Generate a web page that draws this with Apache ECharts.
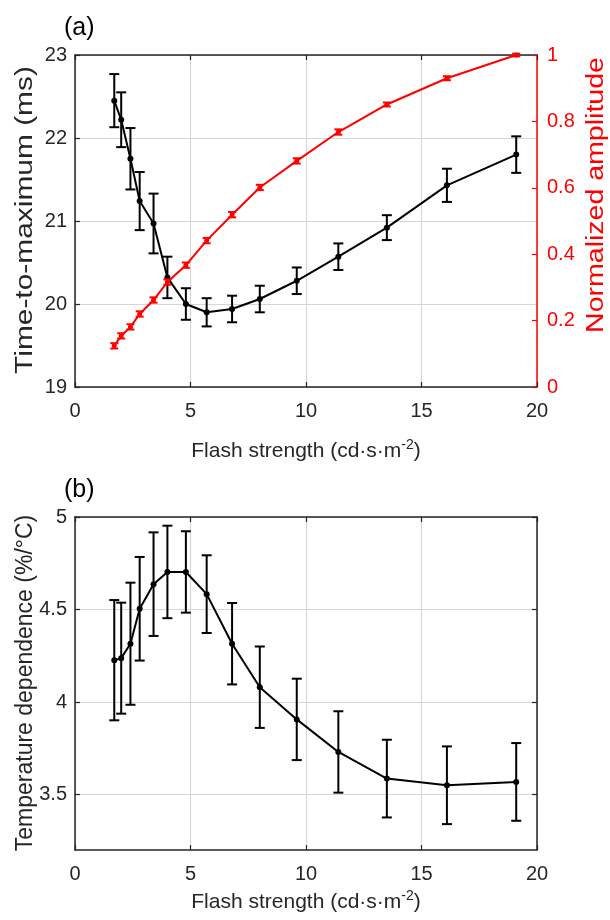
<!DOCTYPE html>
<html>
<head>
<meta charset="utf-8">
<script src="https://cdn.jsdelivr.net/npm/echarts@6/dist/echarts.min.js"></script>
<style>
html,body{margin:0;padding:0;background:#fff;}
#chart{width:610px;height:920px;}
</style>
</head>
<body>
<div id="chart"></div>
<script>
// Flash strengths (cd·s·m^-2)
const flash = [1.7, 2.0, 2.4, 2.8, 3.4, 4.0, 4.8, 5.7, 6.8, 8.0, 9.6, 11.4, 13.5, 16.1, 19.1];
// (a) Time-to-maximum (ms) and its error
const tmax = [22.45, 22.22, 21.75, 21.24, 20.97, 20.32, 20.00, 19.90, 19.94, 20.06, 20.28, 20.57, 20.92, 21.43, 21.80];
const tmaxErr = [0.32, 0.33, 0.37, 0.35, 0.36, 0.25, 0.19, 0.17, 0.16, 0.16, 0.16, 0.16, 0.15, 0.20, 0.22];
// (a) Normalized amplitude and its error
const amp = [0.124, 0.154, 0.181, 0.220, 0.262, 0.316, 0.367, 0.441, 0.519, 0.601, 0.681, 0.768, 0.851, 0.930, 1.000];
const ampErr = [0.008, 0.008, 0.008, 0.008, 0.008, 0.008, 0.008, 0.008, 0.008, 0.008, 0.008, 0.008, 0.006, 0.006, 0.004];
// (b) Temperature dependence (%/°C) and its error
const tdep = [4.226, 4.237, 4.315, 4.504, 4.637, 4.703, 4.703, 4.583, 4.315, 4.080, 3.906, 3.730, 3.586, 3.550, 3.568];
const tdepErr = [0.325, 0.30, 0.33, 0.28, 0.28, 0.25, 0.22, 0.21, 0.22, 0.22, 0.22, 0.22, 0.21, 0.21, 0.21];
// tick values
const xTicks = [0, 5, 10, 15, 20];
const bTicks = [3.5, 4, 4.5, 5];

const FONT = "'Liberation Sans', Arial, sans-serif";
const AX = '#262626';
const RED = '#ff0000';
const GRIDC = '#d6d6d6';

function pts(xs, ys) { return xs.map((x, i) => [x, ys[i]]); }
function errPts(xs, ys, es) { return xs.map((x, i) => [x, ys[i] - es[i], ys[i] + es[i]]); }

function errSeries(xi, yi, data, color, capW, z) {
  return {
    type: 'custom', xAxisIndex: xi, yAxisIndex: yi, z: z, silent: true,
    data: data,
    encode: { x: 0, y: [1, 2] },
    renderItem: function (params, api) {
      const x = api.value(0);
      const lo = api.coord([x, api.value(1)]);
      const hi = api.coord([x, api.value(2)]);
      const st = { stroke: color, lineWidth: 2 };
      return {
        type: 'group',
        children: [
          { type: 'line', shape: { x1: lo[0], y1: lo[1], x2: hi[0], y2: hi[1] }, style: st },
          { type: 'line', shape: { x1: lo[0] - capW, y1: lo[1], x2: lo[0] + capW, y2: lo[1] }, style: st },
          { type: 'line', shape: { x1: hi[0] - capW, y1: hi[1], x2: hi[0] + capW, y2: hi[1] }, style: st }
        ]
      };
    }
  };
}

function xAxisDef(gi, pos, withLabels, gap) {
  const a = {
    gridIndex: gi, type: 'value', min: 0, max: 20, interval: 5, position: pos,
    axisLine: { show: true, onZero: false, lineStyle: { color: AX, width: 1.5 } },
    axisTick: { show: true, inside: true, length: 5, lineStyle: { color: AX, width: 1.2 } },
    axisLabel: { show: withLabels, fontSize: 20, color: AX, fontFamily: FONT, margin: 14 },
    splitLine: { show: withLabels, lineStyle: { color: GRIDC, width: 1.2 } }
  };
  if (withLabels) {
    a.name = '{t|Flash strength (cd·s·m}{s|-2}{t|)}';
    a.nameLocation = 'middle';
    a.nameGap = gap;
    a.nameTextStyle = {
      rich: {
        t: { fontSize: 21, color: AX, fontFamily: FONT },
        s: { fontSize: 14, color: AX, fontFamily: FONT, padding: [0, 0, 12, 0] }
      }
    };
  }
  return a;
}

function vLabel(text, cx, cy, scale, color) {
  return {
    type: 'text', x: cx, y: cy, rotation: Math.PI / 2, scaleX: scale, scaleY: 1,
    style: { text: text, fontSize: 23, fill: color, fontFamily: FONT, align: 'center', verticalAlign: 'middle' }
  };
}

const option = {
  animation: false,
  backgroundColor: '#ffffff',
  grid: [
    { left: 75, top: 55, width: 462, height: 332 },
    { left: 75, top: 517, width: 462, height: 333 }
  ],
  xAxis: [
    xAxisDef(0, 'bottom', true, 51),
    xAxisDef(0, 'top', false),
    xAxisDef(1, 'bottom', true, 39),
    xAxisDef(1, 'top', false)
  ],
  yAxis: [
    {
      gridIndex: 0, type: 'value', min: 19, max: 23, interval: 1, position: 'left',
      axisLine: { show: true, onZero: false, lineStyle: { color: AX, width: 1.5 } },
      axisTick: { show: true, inside: true, length: 5, lineStyle: { color: AX, width: 1.2 } },
      axisLabel: { fontSize: 20, color: AX, fontFamily: FONT, margin: 8 },
      splitLine: { show: true, lineStyle: { color: GRIDC, width: 1.2 } }
    },
    {
      gridIndex: 0, type: 'value', min: 0, max: 1, interval: 0.2, position: 'right',
      axisLine: { show: true, onZero: false, lineStyle: { color: RED, width: 1.5 } },
      axisTick: { show: true, inside: true, length: 5, lineStyle: { color: RED, width: 1.2 } },
      axisLabel: { fontSize: 20, color: RED, fontFamily: FONT, margin: 10 },
      splitLine: { show: false }
    },
    {
      gridIndex: 1, type: 'value', min: 3.2, max: 5, position: 'left',
      axisLine: { show: true, onZero: false, lineStyle: { color: AX, width: 1.5 } },
      axisTick: { show: true, inside: true, length: 5, customValues: bTicks, lineStyle: { color: AX, width: 1.2 } },
      axisLabel: { fontSize: 20, color: AX, fontFamily: FONT, margin: 8, customValues: bTicks },
      splitLine: { show: true, lineStyle: { color: GRIDC, width: 1.2 } }
    },
    {
      gridIndex: 1, type: 'value', min: 3.2, max: 5, position: 'right',
      axisLine: { show: true, onZero: false, lineStyle: { color: AX, width: 1.5 } },
      axisTick: { show: true, inside: true, length: 5, customValues: bTicks, lineStyle: { color: AX, width: 1.2 } },
      axisLabel: { show: false, customValues: bTicks },
      splitLine: { show: false }
    }
  ],
  graphic: [
    { type: 'text', left: 64, top: 16, style: { text: '(a)', fontSize: 25, fill: '#000', fontFamily: FONT } },
    { type: 'text', left: 64, top: 478, style: { text: '(b)', fontSize: 25, fill: '#000', fontFamily: FONT } },
    vLabel('Time-to-maximum (ms)', 26, 220, 1.3, AX),
    vLabel('Normalized amplitude', 597, 195, 1.24, RED),
    vLabel('Temperature dependence (%/°C)', 26, 683, 1.0, AX)
  ],
  series: [
    errSeries(0, 0, errPts(flash, tmax, tmaxErr), '#000000', 5, 3),
    {
      type: 'line', xAxisIndex: 0, yAxisIndex: 0, data: pts(flash, tmax), z: 4,
      symbol: 'circle', symbolSize: 6, showSymbol: true,
      lineStyle: { color: '#000000', width: 2 }, itemStyle: { color: '#000000' }
    },
    errSeries(0, 1, errPts(flash, amp, ampErr), RED, 4, 5),
    {
      type: 'line', xAxisIndex: 0, yAxisIndex: 1, data: pts(flash, amp), z: 6,
      symbol: 'circle', symbolSize: 5, showSymbol: true,
      lineStyle: { color: RED, width: 2 }, itemStyle: { color: RED }
    },
    errSeries(2, 2, errPts(flash, tdep, tdepErr), '#000000', 5, 3),
    {
      type: 'line', xAxisIndex: 2, yAxisIndex: 2, data: pts(flash, tdep), z: 4,
      symbol: 'circle', symbolSize: 6, showSymbol: true,
      lineStyle: { color: '#000000', width: 2 }, itemStyle: { color: '#000000' }
    }
  ]
};

const chart = echarts.init(document.getElementById('chart'), null, { renderer: 'canvas' });
chart.setOption(option);
</script>
</body>
</html>
